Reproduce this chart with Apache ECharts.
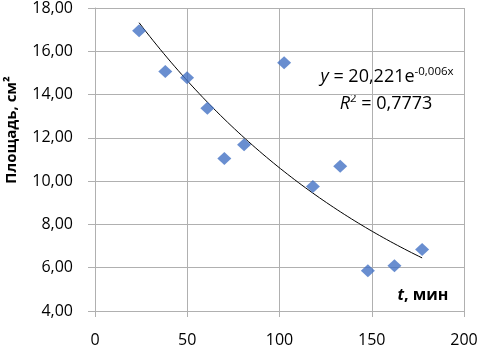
<!DOCTYPE html>
<html><head><meta charset="utf-8">
<script src="https://cdn.jsdelivr.net/npm/echarts@6/dist/echarts.min.js"></script>
<style>html,body{margin:0;padding:0;background:#fff}#c{width:481px;height:348px}</style>
</head><body><div id="c"></div>
<script>
// Data
const timeMin = [23.9, 38.1, 49.9, 60.9, 70.1, 80.8, 102.5, 118.1, 132.9, 147.9, 162.3, 177.3];
const areaCm2 = [16.95, 15.07, 14.78, 13.37, 11.05, 11.68, 15.47, 9.75, 10.69, 5.86, 6.09, 6.84];
const xTicks = [0, 50, 100, 150, 200];
const yTicks = [4, 6, 8, 10, 12, 14, 16, 18];
const yAxisTitle = 'Площадь, см²';
const eqLine1 = '{i|y} = 20,221e{sup|-0,006x}';
const eqLine2 = '{i|R}{sup|2} = 0,7773';

// Exponential trendline (least squares on ln y), like a spreadsheet trendline
function expFit(xs, ys) {
  const n = xs.length;
  const ly = ys.map(Math.log);
  const mx = xs.reduce((a, b) => a + b, 0) / n;
  const my = ly.reduce((a, b) => a + b, 0) / n;
  let sxy = 0, sxx = 0;
  for (let i = 0; i < n; i++) { sxy += (xs[i] - mx) * (ly[i] - my); sxx += (xs[i] - mx) ** 2; }
  const k = sxy / sxx;
  return { a: Math.exp(my - k * mx), k };
}
const fit = expFit(timeMin, areaCm2);
const x0 = Math.min(...timeMin), x1 = Math.max(...timeMin);
const trend = [];
for (let i = 0; i <= 80; i++) {
  const x = x0 + (x1 - x0) * i / 80;
  trend.push([x, fit.a * Math.exp(fit.k * x)]);
}

const gridColor = '#b0b0b0';
const font = 'Open Sans';
const chart = echarts.init(document.getElementById('c'));
chart.setOption({
  animation: false,
  backgroundColor: '#fff',
  grid: { left: 95, right: 17, top: 8, bottom: 35 },
  xAxis: {
    type: 'value', min: xTicks[0], max: xTicks[xTicks.length - 1], interval: 50,
    axisLine: { show: true, lineStyle: { color: gridColor } },
    axisTick: { show: true, length: 6, lineStyle: { color: gridColor } },
    splitLine: { show: true, lineStyle: { color: gridColor } },
    axisLabel: { color: '#000', fontFamily: font, fontSize: 16, margin: 21 }
  },
  yAxis: {
    type: 'value', min: yTicks[0], max: yTicks[yTicks.length - 1], interval: 2,
    axisLine: { show: true, lineStyle: { color: gridColor } },
    axisTick: { show: true, length: 7, lineStyle: { color: gridColor } },
    splitLine: { show: true, lineStyle: { color: gridColor } },
    axisLabel: { color: '#000', fontFamily: font, fontSize: 16, margin: 22,
      formatter: v => v.toFixed(2).replace('.', ',') }
  },
  series: [
    { type: 'line', data: trend, showSymbol: false, symbol: 'none', silent: true,
      lineStyle: { color: '#000', width: 1 }, z: 2 },
    { type: 'scatter', data: timeMin.map((x, i) => [x, areaCm2[i]]),
      symbol: 'diamond', symbolSize: [14, 13], itemStyle: { color: '#4472C4' }, z: 3 }
  ],
  graphic: [
    { type: 'text', x: 12, y: 130, rotation: Math.PI / 2,
      style: { text: yAxisTitle, fontFamily: font, fontWeight: 'bold', fontSize: 15,
        fill: '#000', align: 'center', verticalAlign: 'middle' } },
    { type: 'text', x: 423, y: 295,
      style: { text: '{i|t}, мин', fontFamily: font, fontWeight: 'bold', fontSize: 16,
        fill: '#000', align: 'center', verticalAlign: 'middle',
        rich: { i: { fontStyle: 'italic', fontWeight: 'bold', fontFamily: font, fontSize: 16 } } } },
    { type: 'text', x: 387, y: 77,
      style: { text: eqLine1, fontFamily: font, fontSize: 18, fill: '#000',
        align: 'center', verticalAlign: 'middle',
        rich: { i: { fontStyle: 'italic', fontFamily: font, fontSize: 18 },
                sup: { fontFamily: font, fontSize: 11.5, padding: [0, 0, 10, 0] } } } },
    { type: 'text', x: 386, y: 104,
      style: { text: eqLine2, fontFamily: font, fontSize: 18, fill: '#000',
        align: 'center', verticalAlign: 'middle',
        rich: { i: { fontStyle: 'italic', fontFamily: font, fontSize: 18 },
                sup: { fontFamily: font, fontSize: 11.5, padding: [0, 0, 10, 0] } } } }
  ]
});
</script></body></html>
